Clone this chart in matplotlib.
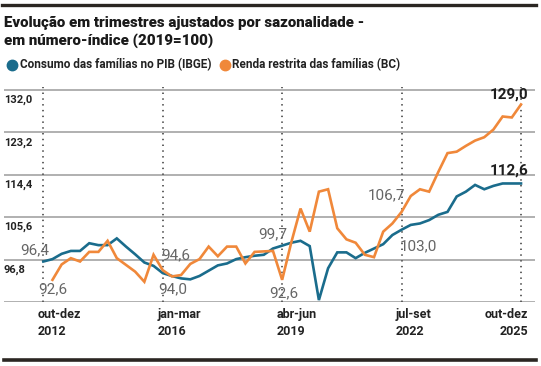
import numpy as np
import matplotlib
matplotlib.use("Agg")
import matplotlib.pyplot as plt
from matplotlib.lines import Line2D

# ---------------- data ----------------
consumo = [96.4, 96.9, 98.0, 98.6, 98.6, 100.2, 99.8, 99.8, 101.2, 99.5,
           97.9, 96.2, 95.5, 94.0, 93.4, 92.9, 92.7, 93.4, 94.5, 95.6,
           96.0, 96.9, 97.3, 97.6, 97.8, 99.1, 99.7, 100.3, 100.7, 99.6,
           88.4, 95.0, 98.3, 98.3, 97.1, 98.2, 99.1, 100.0, 101.9, 103.0,
           104.0, 104.3, 105.0, 106.1, 106.7, 109.9, 110.9, 112.3, 111.4, 112.1,
           112.6, 112.6, 112.6]
renda = [np.nan, 92.6, 95.8, 97.1, 96.4, 98.4, 98.4, 100.7, 97.1, 95.7,
         94.3, 92.2, 97.8, 94.6, 93.3, 93.6, 95.9, 96.9, 99.5, 97.5,
         99.5, 99.5, 96.0, 98.4, 98.5, 98.6, 92.6, 100.4, 107.4, 102.6,
         110.9, 111.4, 103.3, 101.0, 100.3, 97.8, 97.3, 102.6, 104.3, 106.7,
         110.0, 111.4, 110.9, 115.0, 118.9, 119.2, 120.4, 121.5, 122.2, 123.8,
         126.5, 126.3, 129.0]
x_tick_idx = [0, 13, 26, 39, 52]
x_tick_labels = [("out-dez", "2012"), ("jan-mar", "2016"), ("abr-jun", "2019"),
                 ("jul-set", "2022"), ("out-dez", "2025")]
y_grid = [88.0, 96.8, 105.6, 114.4, 123.2, 132.0]
y_tick_labels = ["", "96,8", "105,6", "114,4", "123,2", "132,0"]
title_lines = ["Evolução em trimestres ajustados por sazonalidade -",
               "em número-índice (2019=100)"]
legend_labels = ["Consumo das famílias no PIB (IBGE)", "Renda restrita das famílias (BC)"]

BLUE = "#1a6c8c"
ORANGE = "#f0883a"
FAM = ["Roboto", "DejaVu Sans"]
plt.rcParams["font.family"] = FAM

W, H = 541, 366
fig = plt.figure(figsize=(W / 100, H / 100), dpi=100)

def fx(px):
    return px / W

def fy(py):
    return 1 - py / H

# axes geometry in pixels
ax_l, ax_r, ax_t, ax_b = 4, 535, 87, 302
ax = fig.add_axes([fx(ax_l), fy(ax_b), (ax_r - ax_l) / W, (ax_b - ax_t) / H])
x = np.arange(len(consumo))
px_per_q = (521 - 43.3) / 52
ax.set_xlim(-(43.3 - ax_l) / px_per_q, 52 + (ax_r - 521) / px_per_q)
px_per_unit = (302 - 90) / 44.0
ax.set_ylim(88.0, 132.0 + (90 - ax_t) / px_per_unit)
ax.axis("off")

for g in y_grid:
    ax.axhline(g, color="#a3a3a3", lw=1.2, zorder=1)
for xi in x_tick_idx:
    ax.axvline(xi, color="#555555", lw=1.3, ls=(0, (0.8, 2.4)), zorder=1)

ax.plot(x, consumo, color=BLUE, lw=1.9, zorder=3, solid_joinstyle="miter")
ax.plot(x, renda, color=ORANGE, lw=1.9, zorder=3, solid_joinstyle="miter")

# y tick labels (below their gridline, left)
for g, lab in zip(y_grid, y_tick_labels):
    if lab:
        ax.annotate(lab, (0, g), xycoords=("axes fraction", "data"),
                    xytext=(0, -3.5), textcoords="offset points",
                    ha="left", va="top", fontsize=8, fontweight="bold", color="#222222")

# x labels
for i, (xi, (l1, l2)) in enumerate(zip(x_tick_idx, x_tick_labels)):
    last = i == len(x_tick_idx) - 1
    ha = "right" if last else "left"
    dx = 5 if last else -4
    for k, t in enumerate((l1, l2)):
        ax.annotate(t, (xi, 88.0), xycoords="data",
                    xytext=(dx, -4 - k * 12.5), textcoords="offset points",
                    ha=ha, va="top", fontsize=9, fontweight="bold", color="#222222")

# data labels
lab_kw = dict(textcoords="offset points", fontsize=11, color="#666666")
def dlabel(txt, xi, yv, dx, dy, ha, bold=False):
    kw = dict(lab_kw)
    if bold:
        kw.update(color="#1e1e1e", fontweight="bold", fontsize=11)
    ax.annotate(txt, (xi, yv), xytext=(dx, dy), ha=ha, va="center", **kw)

dlabel("96,4", 0, consumo[0], 4, 8, "right")
dlabel("92,6", 1, renda[1], 0, -7, "center")
dlabel("94,6", 13, renda[13], -1, 11, "left")
dlabel("94,0", 13, consumo[13], -3, -12, "left")
dlabel("99,7", 26, consumo[26], 4, 8, "right")
dlabel("92,6", 26, renda[26], 1, -10, "center")
dlabel("106,7", 39, renda[39], 3, 12, "right")
dlabel("103,0", 39, consumo[39], -1, -12, "left")
dlabel("129,0", 52, renda[52], 5, 7, "right", bold=True)
dlabel("112,6", 52, consumo[52], 5, 9, "right", bold=True)

# title (two lines, placed by baseline)
for line, base in zip(title_lines, [26.7, 44.3]):
    fig.text(fx(4), fy(base), line, ha="left", va="baseline", fontsize=10.8,
             fontweight="black", color="#1a1a1a")

# legend
for (cx, tx), lab, col in zip([(12, 20), (225, 232)], legend_labels, [BLUE, ORANGE]):
    fig.add_artist(Line2D([fx(cx)], [fy(65)], marker="o", markersize=7.5,
                          color=col, transform=fig.transFigure, linestyle="none"))
    fig.text(fx(tx), fy(65), lab, ha="left", va="center", fontsize=8.5,
             fontweight="bold", color="#222222")

# top and bottom rules
fig.add_artist(Line2D([fx(2), fx(536)], [fy(5), fy(5)], color="#2b2622", lw=2.4,
                      transform=fig.transFigure))
fig.add_artist(Line2D([fx(4), fx(536)], [fy(359.5), fy(359.5)], color="#2b2622", lw=2.6,
                      transform=fig.transFigure))

fig.savefig("out.png", dpi=100, facecolor="white")
